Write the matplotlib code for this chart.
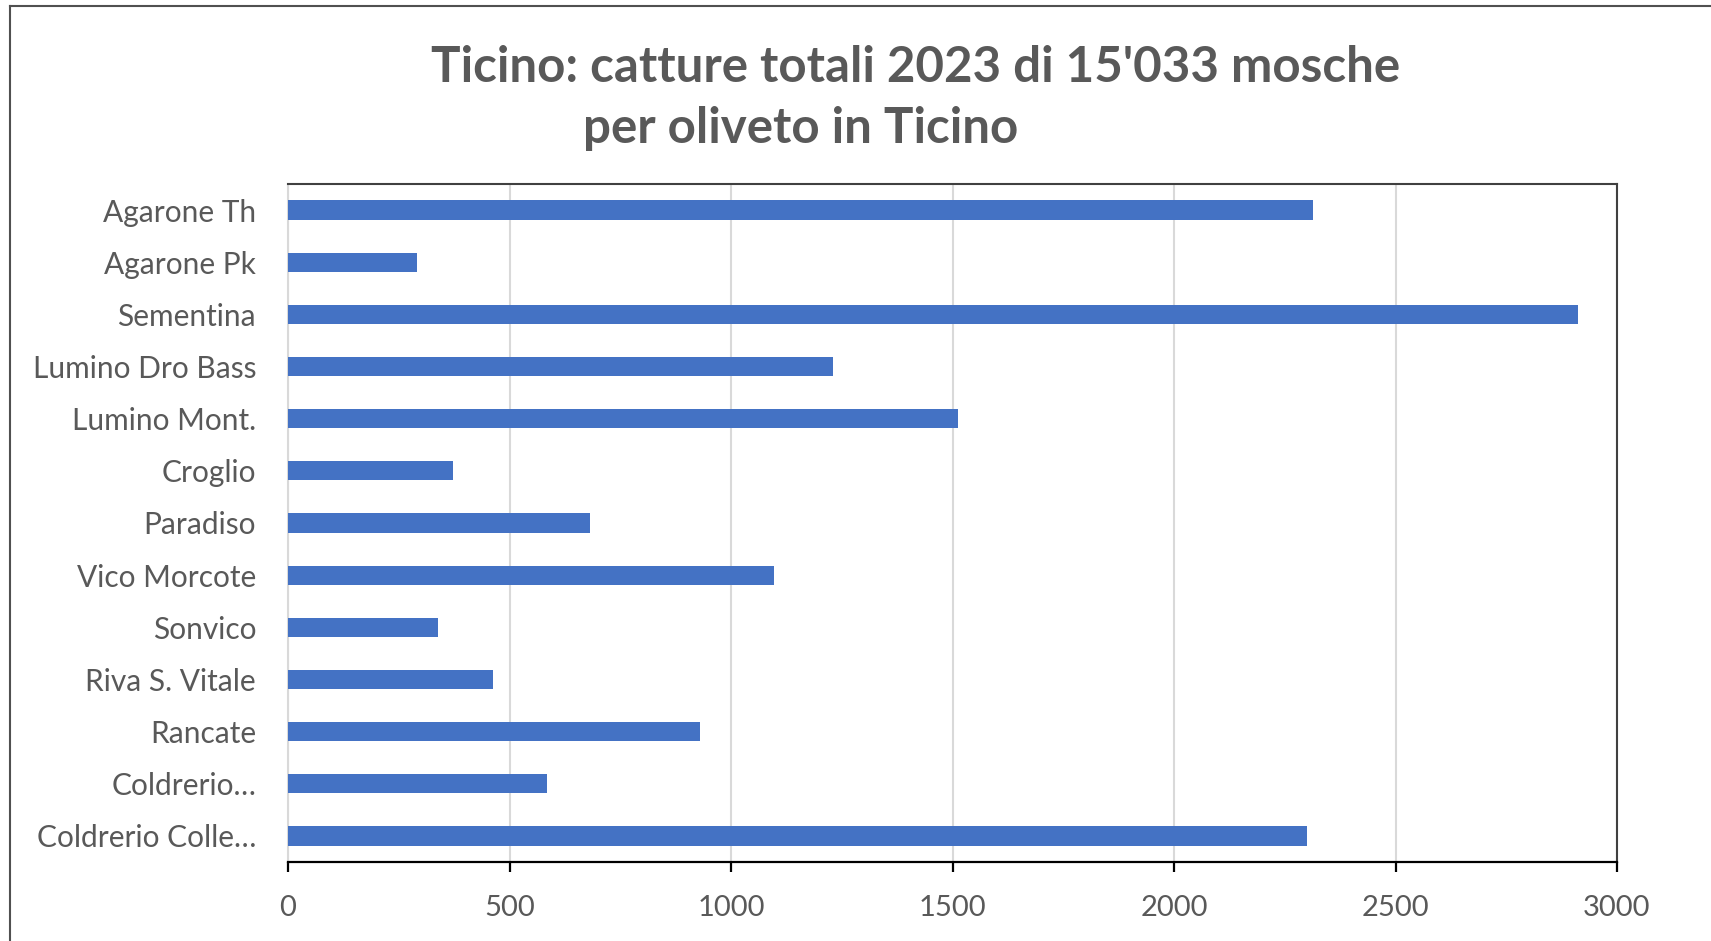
import matplotlib.pyplot as plt
from matplotlib.lines import Line2D

# Catture totali 2023 per oliveto
siti = [
    "Agarone Th", "Agarone Pk", "Sementina", "Lumino Dro Bass", "Lumino Mont.",
    "Croglio", "Paradiso", "Vico Morcote", "Sonvico", "Riva S. Vitale",
    "Rancate", "Coldrerio…", "Coldrerio Colle…",
]
catture = [2314, 291, 2912, 1231, 1512, 372, 681, 1097, 339, 463, 930, 584, 2300]
x_ticks = [0, 500, 1000, 1500, 2000, 2500, 3000]

TEXT = "#595959"
BAR = "#4472C4"
FONT = ["Lato", "DejaVu Sans"]

W, H = 1711, 941
fig = plt.figure(figsize=(W / 100, H / 100), dpi=100)
fig.patch.set_facecolor("white")

# plot area in pixel terms
left, right, top, bottom = 288, 1617, 184, 862
ax = fig.add_axes([left / W, 1 - bottom / H, (right - left) / W, (bottom - top) / H])

pos = list(range(len(siti)))
ax.barh(pos, catture, height=0.37, color=BAR, zorder=3)
ax.set_ylim(len(siti) - 0.5, -0.5)
ax.set_xlim(x_ticks[0], x_ticks[-1])
ax.set_xticks(x_ticks)
ax.set_yticks(pos)
ax.set_yticklabels(siti)

ax.grid(axis="x", color="#D9D9D9", lw=1.5, zorder=0)
ax.tick_params(axis="y", length=0, pad=23, labelsize=21.5, labelcolor=TEXT)
ax.tick_params(axis="x", direction="out", length=7.5, width=1.6, color="black",
               pad=16, labelsize=21, labelcolor=TEXT)
for lab in ax.get_xticklabels() + ax.get_yticklabels():
    lab.set_family(FONT)

ax.spines["bottom"].set_color("black")
ax.spines["bottom"].set_linewidth(1.6)
ax.spines["left"].set_color("#D9D9D9")
ax.spines["left"].set_linewidth(1.5)
for s in ("top", "right"):
    ax.spines[s].set_color("#404040")
    ax.spines[s].set_linewidth(1.5)

# title, two lines
fig.text(916 / W, 1 - 82 / H, "Ticino: catture totali 2023 di 15'033 mosche",
         ha="center", va="baseline", fontsize=35.5, fontweight="bold",
         color=TEXT, family=FONT)
fig.text(801 / W, 1 - 143 / H, "per oliveto in Ticino",
         ha="center", va="baseline", fontsize=35.5, fontweight="bold",
         color=TEXT, family=FONT)

# chart frame edges
fig.add_artist(Line2D([10 / W, 10 / W], [0, 1 - 6 / H], transform=fig.transFigure,
                      color="#505050", lw=1.5))
fig.add_artist(Line2D([10 / W, 1], [1 - 6 / H, 1 - 6 / H], transform=fig.transFigure,
                      color="#505050", lw=1.5))

fig.savefig("out.png", dpi=100)
